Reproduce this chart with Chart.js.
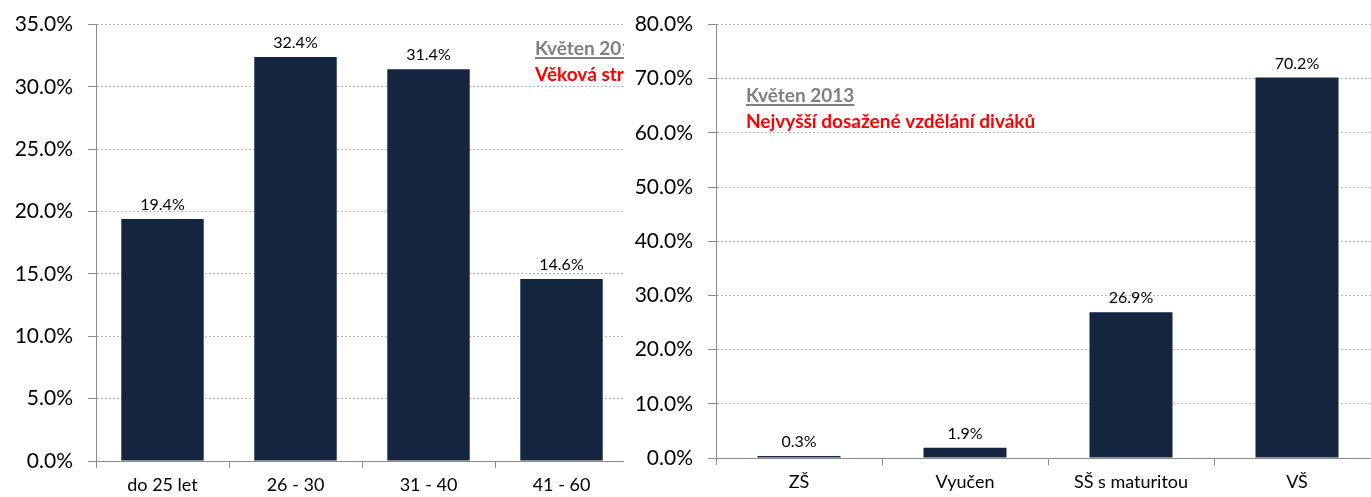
<!DOCTYPE html>
<html>
<head>
<meta charset="utf-8">
<script src="https://cdn.jsdelivr.net/npm/chart.js@4.4.1/dist/chart.umd.min.js"></script>
<style>
	html, body { margin: 0; padding: 0; background: #fff; overflow: hidden; width: 1371px; height: 497px; }
	#ageBox { position: absolute; left: 0; top: 0; width: 640px; height: 497px; }
	#eduBox { position: absolute; left: 624px; top: 0; width: 760px; height: 497px; background: #fff; }
</style>
</head>
<body>
<div id="ageBox"><canvas id="ageChart" width="640" height="497"></canvas></div>
<div id="eduBox"><canvas id="eduChart" width="760" height="497"></canvas></div>
<script>
(() => {
	'use strict'

	// Left chart data (age structure)
	const ageLabels = ['do 25 let', '26 - 30', '31 - 40', '41 - 60'];
	const ageValues = [19.4, 32.4, 31.4, 14.6];
	const ageTicks = [0, 5, 10, 15, 20, 25, 30, 35];

	// Right chart data (education)
	const eduLabels = ['ZŠ', 'Vyučen', 'SŠ s maturitou', 'VŠ'];
	const eduValues = [0.3, 1.9, 26.9, 70.2];
	const eduTicks = [0, 10, 20, 30, 40, 50, 60, 70, 80];

	const barColor = '#13253f';
	const axisColor = '#898989';
	const gridColor = '#b4b4b4';
	const fontFamily = 'Lato, "Open Sans", sans-serif';

	// Value labels above bars
	const valueLabels = {
		id: 'valueLabels',
		afterDatasetsDraw(chart) {
			const ctx = chart.ctx;
			const meta = chart.getDatasetMeta(0);
			ctx.save();
			ctx.font = '16px ' + fontFamily;
			ctx.fillStyle = '#000';
			ctx.textAlign = 'center';
			ctx.textBaseline = 'alphabetic';
			meta.data.forEach((bar, i) => {
				const v = chart.data.datasets[0].data[i];
				ctx.fillText(v.toFixed(1) + '%', bar.x, bar.y - 9);
			});
			ctx.restore();
		}
	};

	// Gray underlined subtitle + red title, drawn on the chart canvas
	function titlePlugin(x, y, title) {
		return {
			id: 'cornerTitle',
			afterDraw(chart) {
				const ctx = chart.ctx;
				ctx.save();
				ctx.font = 'bold 19px ' + fontFamily;
				ctx.textAlign = 'left';
				ctx.textBaseline = 'alphabetic';
				ctx.fillStyle = '#7f7f7f';
				ctx.fillText('Květen 2013', x, y);
				const w = ctx.measureText('Květen 2013').width;
				ctx.fillRect(x, y + 2, w, 2);
				ctx.fillStyle = '#ff0000';
				ctx.fillText(title, x, y + 26);
				ctx.restore();
			}
		};
	}

	function makeConfig(labels, values, ticks, yWidth, xHeight, barPct, padRight, title) {
		return {
			type: 'bar',
			data: {
				labels: labels,
				datasets: [{
					data: values,
					backgroundColor: barColor,
					barPercentage: barPct,
					categoryPercentage: 1,
					minBarLength: 2
				}]
			},
			options: {
				responsive: false,
				animation: false,
				layout: {
					padding: { top: 0, right: padRight, bottom: 0, left: 0 }
				},
				plugins: {
					legend: { display: false },
					tooltip: { enabled: false },
					title: { display: false }
				},
				scales: {
					y: {
						min: ticks[0],
						max: ticks[ticks.length - 1],
						afterBuildTicks: (scale) => {
							scale.ticks = ticks.map(v => ({ value: v }));
						},
						afterFit: (scale) => { scale.width = yWidth; },
						ticks: {
							color: '#000',
							padding: 15,
							font: { family: fontFamily, size: 21, lineHeight: 0.9 },
							callback: (v) => Number(v).toFixed(1) + '%'
						},
						grid: {
							color: gridColor,
							tickColor: axisColor,
							tickLength: 8
						},
						border: {
							color: axisColor,
							dash: [2, 2]
						}
					},
					x: {
						afterFit: (scale) => { scale.height = xHeight; },
						ticks: {
							color: '#000',
							padding: 6,
							font: { family: fontFamily, size: 18 }
						},
						grid: {
							drawOnChartArea: false,
							color: axisColor,
							tickLength: 7
						},
						border: {
							color: axisColor
						}
					}
				}
			},
			plugins: [valueLabels, titlePlugin(title.x, title.y, title.text)]
		};
	}

	const ageChart = new Chart(document.getElementById('ageChart'),
		makeConfig(ageLabels, ageValues, ageTicks, 96, 36, 0.62, 12,
			{ x: 535, y: 55, text: 'Věková struktura diváků' }));

	const eduChart = new Chart(document.getElementById('eduChart'),
		makeConfig(eduLabels, eduValues, eduTicks, 92, 39, 0.5, 4,
			{ x: 122, y: 102, text: 'Nejvyšší dosažené vzdělání diváků' }));
})()
</script>
</body>
</html>
